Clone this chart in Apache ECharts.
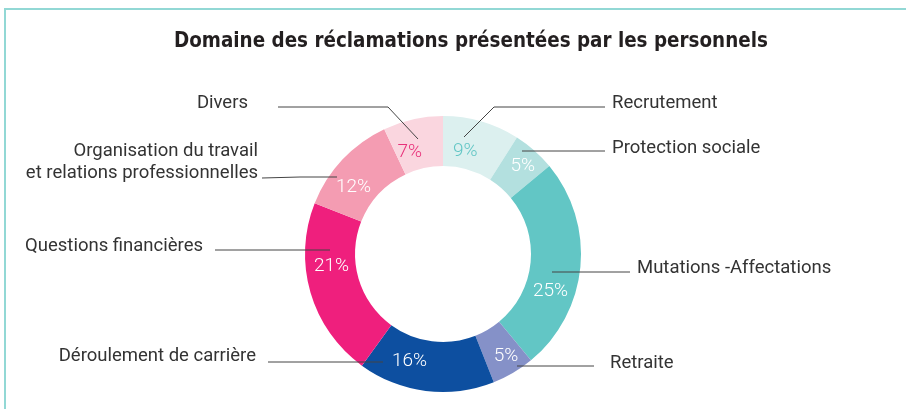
<!DOCTYPE html>
<html>
<head>
<meta charset="utf-8">
<script src="https://cdn.jsdelivr.net/npm/echarts@6/dist/echarts.min.js"></script>
<style>
  body { margin: 0; background: #fff; }
  .frame { position: absolute; left: 4px; top: 8px; right: 0; bottom: 0;
           border-top: 2px solid #92d8d5; border-left: 2px solid #92d8d5; }
  #chart { position: absolute; left: 0; top: 0; width: 906px; height: 409px; }
</style>
</head>
<body>
<div class="frame"></div>
<div id="chart"></div>
<script>
// data (clockwise from top)
const categories = [
  "Recrutement",
  "Protection sociale",
  "Mutations -Affectations",
  "Retraite",
  "Déroulement de carrière",
  "Questions financières",
  "Organisation du travail\net relations professionnelles",
  "Divers",
];
const shares = [9, 5, 25, 5, 16, 21, 12, 7];
const colors = ["#dcf0ef", "#b3e0df", "#62c6c5", "#8591c8", "#0d4fa0", "#ef1f7d", "#f49cb2", "#fad6df"];
const pctColors = ["#62c6c5", "#fff", "#fff", "#fff", "#fff", "#fff", "#fff", "#e8317a"];
// nudge of the % labels away from the sector middle
const pctOffset = [[-10, 9], [3, -1], [-8, 26], [4, 2], [-19, -8], [0, -20], [-5, 13], [-8, 11]];

// where each name label and its leader line go
const nameLayout = [
  { x: 612, y: 103, align: "left", line: [[464, 137], [494, 107], [605, 107]] },
  { x: 612, y: 148, align: "left", line: [[522, 151], [560, 151], [605, 151]] },
  { x: 637, y: 268, align: "left", line: [[552, 272], [590, 272], [630, 272]] },
  { x: 610, y: 363, align: "left", line: [[517, 366], [550, 366], [594, 366]] },
  { x: 256, y: 356, align: "right", line: [[383, 362], [320, 362], [268, 362]] },
  { x: 203, y: 246, align: "right", line: [[330, 250], [270, 250], [215, 250]] },
  { x: 258, y: 162, align: "right", line: [[337, 177], [300, 177], [262, 178]] },
  { x: 248, y: 103, align: "right", line: [[418, 139], [388, 107], [278, 107]] },
];

const myChart = echarts.init(document.getElementById("chart"));
myChart.setOption({
  animation: false,
  title: {
    text: "Domaine des réclamations présentées par les personnels",
    left: 169,
    top: 27,
    textStyle: { fontFamily: "DejaVu Sans Condensed", fontWeight: "bold", fontSize: 20.4, color: "#231f20" },
  },
  series: [
    {
      type: "pie",
      center: [443, 254],
      radius: [88, 138],
      startAngle: 90,
      clockwise: true,
      silent: true,
      label: {
        show: true,
        position: "inside",
        formatter: "{c}%",
        fontFamily: "Roboto",
        fontWeight: 300,
        fontSize: 19,
      },
      data: categories.map((name, i) => ({
        name,
        value: shares[i],
        itemStyle: { color: colors[i] },
        label: { color: pctColors[i], offset: pctOffset[i] },
      })),
    },
    {
      type: "pie",
      center: [443, 254],
      radius: [88, 138],
      startAngle: 90,
      clockwise: true,
      silent: true,
      z: 3,
      itemStyle: { color: "rgba(0,0,0,0)" },
      label: {
        show: true,
        position: "outside",
        formatter: "{b}",
        fontFamily: "Roboto",
        fontSize: 18.5,
        lineHeight: 22,
        color: "#333",
      },
      labelLine: { show: true, lineStyle: { color: "#444", width: 1 } },
      labelLayout: (params) => {
        const l = nameLayout[params.dataIndex];
        return { x: l.x, y: l.y, align: l.align, verticalAlign: "middle", labelLinePoints: l.line };
      },
      data: categories.map((name, i) => ({ name, value: shares[i] })),
    },
  ],
});
</script>
</body>
</html>
